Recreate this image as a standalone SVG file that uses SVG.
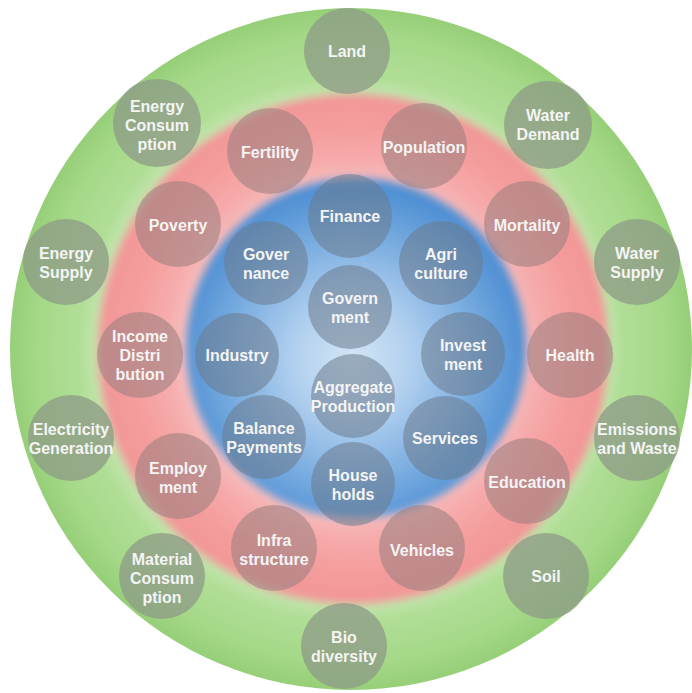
<svg xmlns="http://www.w3.org/2000/svg" width="692" height="693" viewBox="0 0 692 693">
<style>
.bg{fill:#ffffff}
.n circle{stroke:none}
.g circle{fill:#8e9c86;opacity:0.78}
.r circle{fill:#a08080;opacity:0.6}
.b circle{fill:#6c7a8c;opacity:0.55}
text{font-family:"Liberation Sans",Arial,sans-serif;font-weight:bold;font-size:16px;fill:#f4f4f4;text-anchor:middle}
</style>
<defs>
<radialGradient id="gg" cx="351" cy="349" r="341" gradientUnits="userSpaceOnUse">
<stop offset="0.72" stop-color="#cdeabb"/>
<stop offset="0.8" stop-color="#b0de96"/>
<stop offset="0.92" stop-color="#a5d888"/>
<stop offset="1" stop-color="#96cf78"/>
</radialGradient>
<radialGradient id="rg" cx="353" cy="349" r="255" gradientUnits="userSpaceOnUse">
<stop offset="0.62" stop-color="#f9c6c6"/>
<stop offset="0.74" stop-color="#f6abab"/>
<stop offset="0.88" stop-color="#f49c9c"/>
<stop offset="1" stop-color="#f29696"/>
</radialGradient>
<radialGradient id="bgr" cx="352" cy="360" r="172" gradientUnits="userSpaceOnUse">
<stop offset="0" stop-color="#d4e6f6"/>
<stop offset="0.35" stop-color="#b0cfee"/>
<stop offset="0.75" stop-color="#74a9de"/>
<stop offset="1" stop-color="#5090d4"/>
</radialGradient>
<filter id="soft" x="-10%" y="-10%" width="120%" height="120%">
<feGaussianBlur stdDeviation="4"/>
</filter>
</defs>
<rect class="bg" x="0" y="0" width="692" height="693"/>
<g id="rings">
<circle cx="351" cy="349" r="341" fill="url(#gg)"/>
<circle cx="353" cy="349" r="255" fill="url(#rg)" filter="url(#soft)"/>
<circle cx="356" cy="348" r="170" fill="url(#bgr)" filter="url(#soft)"/>
</g>
<g id="connectors"></g>
<g id="outer-nodes">
<g id="land" class="n g"><circle cx="347" cy="51" r="43"/><text x="347" y="57">Land</text></g>
<g id="energy-consumption" class="n g"><circle cx="157" cy="123" r="44"/><text x="157"><tspan x="157" y="112">Energy</tspan><tspan x="157" y="131">Consum</tspan><tspan x="157" y="150">ption</tspan></text></g>
<g id="water-demand" class="n g"><circle cx="548" cy="125" r="44"/><text><tspan x="548" y="121">Water</tspan><tspan x="548" y="140">Demand</tspan></text></g>
<g id="energy-supply" class="n g"><circle cx="66" cy="262" r="43"/><text><tspan x="66" y="259">Energy</tspan><tspan x="66" y="278">Supply</tspan></text></g>
<g id="water-supply" class="n g"><circle cx="637" cy="262" r="43"/><text><tspan x="637" y="259">Water</tspan><tspan x="637" y="278">Supply</tspan></text></g>
<g id="electricity-generation" class="n g"><circle cx="71" cy="438" r="43"/><text><tspan x="71" y="435">Electricity</tspan><tspan x="71" y="454">Generation</tspan></text></g>
<g id="emissions-waste" class="n g"><circle cx="637" cy="438" r="43"/><text><tspan x="637" y="435">Emissions</tspan><tspan x="637" y="454">and Waste</tspan></text></g>
<g id="material-consumption" class="n g"><circle cx="162" cy="576" r="43"/><text><tspan x="162" y="565">Material</tspan><tspan x="162" y="584">Consum</tspan><tspan x="162" y="603">ption</tspan></text></g>
<g id="soil" class="n g"><circle cx="546" cy="576" r="43"/><text x="546" y="582">Soil</text></g>
<g id="biodiversity" class="n g"><circle cx="344" cy="646" r="43"/><text><tspan x="344" y="643">Bio</tspan><tspan x="344" y="662">diversity</tspan></text></g>
</g>
<g id="middle-nodes">
<g id="fertility" class="n r"><circle cx="270" cy="151" r="43"/><text x="270" y="158">Fertility</text></g>
<g id="population" class="n r"><circle cx="424" cy="146" r="43"/><text x="424" y="153">Population</text></g>
<g id="poverty" class="n r"><circle cx="178" cy="224" r="43"/><text x="178" y="231">Poverty</text></g>
<g id="mortality" class="n r"><circle cx="527" cy="224" r="43"/><text x="527" y="231">Mortality</text></g>
<g id="income-distribution" class="n r"><circle cx="140" cy="355" r="43"/><text><tspan x="140" y="342">Income</tspan><tspan x="140" y="361">Distri</tspan><tspan x="140" y="380">bution</tspan></text></g>
<g id="health" class="n r"><circle cx="570" cy="355" r="43"/><text x="570" y="361">Health</text></g>
<g id="employment" class="n r"><circle cx="178" cy="476" r="43"/><text><tspan x="178" y="474">Employ</tspan><tspan x="178" y="493">ment</tspan></text></g>
<g id="education" class="n r"><circle cx="527" cy="481" r="43"/><text x="527" y="488">Education</text></g>
<g id="infrastructure" class="n r"><circle cx="274" cy="548" r="43"/><text><tspan x="274" y="546">Infra</tspan><tspan x="274" y="565">structure</tspan></text></g>
<g id="vehicles" class="n r"><circle cx="422" cy="548" r="43"/><text x="422" y="556">Vehicles</text></g>
</g>
<g id="inner-nodes">
<g id="finance" class="n b"><circle cx="350" cy="216" r="42"/><text x="350" y="222">Finance</text></g>
<g id="governance" class="n b"><circle cx="266" cy="263" r="42"/><text><tspan x="266" y="260">Gover</tspan><tspan x="266" y="279">nance</tspan></text></g>
<g id="agriculture" class="n b"><circle cx="441" cy="263" r="42"/><text><tspan x="441" y="260">Agri</tspan><tspan x="441" y="279">culture</tspan></text></g>
<g id="government" class="n b"><circle cx="350" cy="307" r="42"/><text><tspan x="350" y="304">Govern</tspan><tspan x="350" y="323">ment</tspan></text></g>
<g id="industry" class="n b"><circle cx="237" cy="355" r="42"/><text x="237" y="361">Industry</text></g>
<g id="investment" class="n b"><circle cx="463" cy="354" r="42"/><text><tspan x="463" y="351">Invest</tspan><tspan x="463" y="370">ment</tspan></text></g>
<g id="aggregate-production" class="n b"><circle cx="353" cy="396" r="42"/><text><tspan x="353" y="393">Aggregate</tspan><tspan x="353" y="412">Production</tspan></text></g>
<g id="balance-payments" class="n b"><circle cx="264" cy="437" r="42"/><text><tspan x="264" y="434">Balance</tspan><tspan x="264" y="453">Payments</tspan></text></g>
<g id="services" class="n b"><circle cx="445" cy="438" r="42"/><text x="445" y="444">Services</text></g>
<g id="households" class="n b"><circle cx="353" cy="484" r="42"/><text><tspan x="353" y="481">House</tspan><tspan x="353" y="500">holds</tspan></text></g>
</g>
</svg>
